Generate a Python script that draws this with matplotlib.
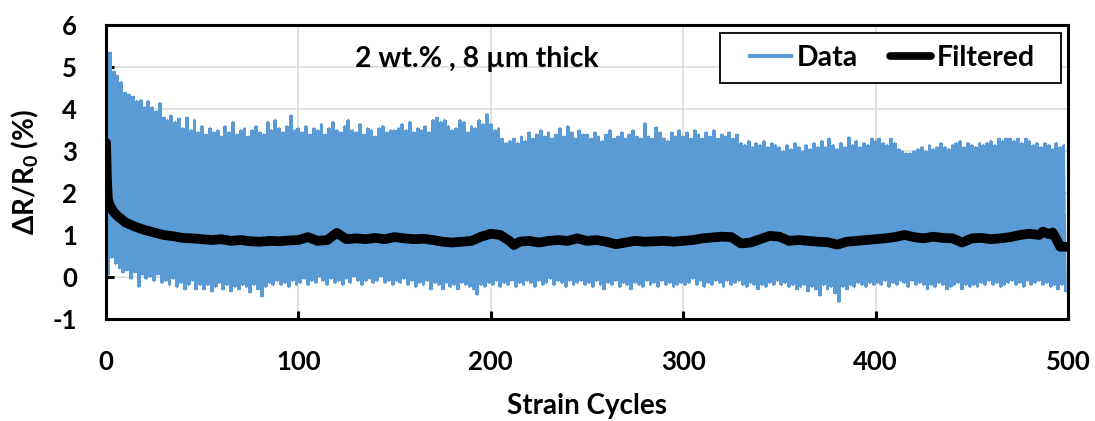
import numpy as np
import matplotlib
matplotlib.use("Agg")
import matplotlib.pyplot as plt
from matplotlib.patches import Rectangle

plt.rcParams['font.family'] = ['Lato', 'Open Sans', 'DejaVu Sans']
plt.rcParams['font.weight'] = 'bold'
plt.rcParams['axes.unicode_minus'] = False
plt.rcParams['mathtext.fontset'] = 'custom'
plt.rcParams['mathtext.rm'] = 'Lato:bold'
plt.rcParams['mathtext.it'] = 'Lato:bold'
plt.rcParams['mathtext.bf'] = 'Lato:bold'

# Peak resistance change of every other strain cycle (cycles 0, 2, 4, ... 498), %
peaks = [
    5.85, 5.35, 4.9, 4.8, 4.65, 4.4, 4.35, 4.3, 4.2, 4.22, 4.05, 4.2, 4.05, 3.95, 4.15, 3.8, 3.75, 3.85, 3.7, 3.78, 3.55, 3.8, 3.5, 3.75, 3.45,
    3.6, 3.4, 3.55, 3.45, 3.5, 3.35, 3.6, 3.45, 3.7, 3.4, 3.5, 3.55, 3.35, 3.5, 3.6, 3.45, 3.4, 3.7, 3.5, 3.75, 3.55, 3.45, 3.6, 3.85, 3.5,
    3.55, 3.45, 3.6, 3.4, 3.55, 3.5, 3.65, 3.4, 3.55, 3.7, 3.5, 3.45, 3.6, 3.75, 3.5, 3.45, 3.65, 3.4, 3.55, 3.5, 3.35, 3.55, 3.6, 3.45, 3.5,
    3.5, 3.55, 3.65, 3.5, 3.7, 3.45, 3.55, 3.5, 3.6, 3.45, 3.75, 3.8, 3.7, 3.75, 3.6, 3.5, 3.55, 3.75, 3.7, 3.45, 3.6, 3.55, 3.75, 3.65, 3.88,
    3.65, 3.5, 3.55, 3.3, 3.2, 3.25, 3.3, 3.2, 3.35, 3.25, 3.45, 3.3, 3.4, 3.5, 3.35, 3.45, 3.3, 3.4, 3.55, 3.35, 3.6, 3.45, 3.3, 3.5, 3.4,
    3.4, 3.3, 3.45, 3.35, 3.25, 3.4, 3.5, 3.3, 3.35, 3.45, 3.3, 3.4, 3.5, 3.35, 3.3, 3.67, 3.35, 3.3, 3.57, 3.45, 3.3, 3.25, 3.45, 3.35, 3.5,
    3.35, 3.45, 3.3, 3.5, 3.4, 3.3, 3.45, 3.35, 3.5, 3.3, 3.4, 3.35, 3.45, 3.3, 3.4, 3.2, 3.15, 3.25, 3.1, 3.2, 3.15, 3.25, 3.1, 3.2, 3.15,
    3.1, 3.0, 3.15, 3.05, 3.2, 3.1, 3.0, 3.15, 3.05, 3.2, 3.1, 3.25, 3.1, 3.3, 3.15, 3.05, 3.2, 3.1, 3.33, 3.15, 3.25, 3.1, 3.2, 3.15, 3.3,
    3.25, 3.3, 3.2, 3.15, 3.3, 3.2, 3.05, 3.0, 2.95, 2.95, 3.0, 3.05, 3.1, 3.0, 3.15, 3.05, 3.1, 3.2, 3.1, 3.05, 3.15, 3.2, 3.25, 3.1, 3.2,
    3.15, 3.1, 3.2, 3.15, 3.2, 3.25, 3.15, 3.3, 3.25, 3.3, 3.3, 3.25, 3.3, 3.2, 3.3, 3.25, 3.15, 3.2, 3.1, 3.2, 3.15, 3.05, 3.2, 3.1, 3.15,
]

# Valley resistance change of the odd strain cycles (cycles 1, 3, 5, ... 499), %
troughs = [
    0.05, 0.45, 0.3, 0.2, 0.1, 0.15, -0.05, 0.1, -0.24, 0.05, -0.05, 0.0, -0.1, 0.05, -0.15, -0.1, -0.2, -0.05, -0.25, -0.15, -0.3, -0.2, -0.1, -0.3, -0.2,
    -0.3, -0.2, -0.35, -0.25, -0.15, -0.3, -0.2, -0.35, -0.25, -0.3, -0.2, -0.25, -0.38, -0.2, -0.3, -0.47, -0.25, -0.15, -0.2, -0.1, -0.2, -0.15, -0.25, -0.1, -0.2,
    -0.15, -0.05, -0.2, -0.1, -0.15, 0.0, -0.1, -0.2, -0.05, -0.15, -0.1, -0.2, -0.05, -0.15, 0.0, -0.1, -0.2, -0.1, -0.05, -0.15, -0.1, 0.0, -0.15, -0.1, -0.2,
    -0.1, -0.15, -0.05, -0.2, -0.1, -0.25, -0.15, -0.2, -0.1, -0.3, -0.15, -0.2, -0.3, -0.15, -0.25, -0.2, -0.3, -0.15, -0.2, -0.25, -0.3, -0.43, -0.2, -0.25, -0.15,
    -0.2, -0.1, -0.25, -0.15, -0.2, -0.1, -0.25, -0.15, -0.2, -0.1, -0.15, -0.25, -0.1, -0.2, -0.15, -0.05, -0.2, -0.1, -0.15, -0.25, -0.1, -0.2, -0.15, -0.1, -0.2,
    -0.15, -0.25, -0.1, -0.2, -0.3, -0.15, -0.2, -0.1, -0.25, -0.15, -0.2, -0.3, -0.15, -0.2, -0.25, -0.1, -0.2, -0.15, -0.25, -0.1, -0.2, -0.15, -0.25, -0.2, -0.15,
    -0.2, -0.15, -0.05, -0.2, -0.1, -0.25, -0.15, -0.2, -0.1, -0.15, -0.25, -0.1, -0.2, -0.15, -0.1, -0.2, -0.25, -0.15, -0.2, -0.3, -0.2, -0.25, -0.15, -0.2, -0.1,
    -0.2, -0.15, -0.25, -0.2, -0.3, -0.25, -0.2, -0.35, -0.25, -0.3, -0.45, -0.2, -0.3, -0.25, -0.4, -0.6, -0.25, -0.3, -0.2, -0.25, -0.15, -0.2, -0.25, -0.15, -0.2,
    -0.15, -0.2, -0.1, -0.25, -0.15, -0.2, -0.1, -0.15, -0.25, -0.1, -0.2, -0.15, -0.2, -0.3, -0.2, -0.25, -0.15, -0.2, -0.3, -0.25, -0.2, -0.15, -0.3, -0.2, -0.25,
    -0.2, -0.25, -0.15, -0.2, -0.1, -0.2, -0.15, -0.25, -0.2, -0.15, -0.1, -0.2, -0.15, -0.25, -0.1, -0.2, -0.15, -0.1, -0.2, -0.15, -0.25, -0.2, -0.3, -0.2, -0.35,
]

# Low-pass filtered signal
filt_cycles = [0, 0.5, 1, 2, 3, 4, 6, 8, 10, 15, 20, 25, 30, 35, 40, 45, 50, 55, 60, 65, 70, 75, 80, 85, 90, 95,
               100, 105, 110, 115, 120, 125, 130, 135, 140, 145, 150, 155, 160, 165, 170, 175, 180, 185, 190, 195,
               200, 205, 210, 212, 215, 220, 225, 230, 235, 240, 245, 250, 255, 260, 265, 270, 275, 280, 285, 290, 295,
               300, 305, 310, 315, 320, 325, 330, 335, 340, 345, 350, 355, 360, 365, 370, 375, 380, 385, 390, 395,
               400, 405, 410, 415, 420, 425, 430, 435, 440, 445, 450, 455, 460, 465, 470, 475, 480, 485, 487, 490, 492, 494, 496, 500]
filt_values = [3.2, 2.3, 1.85, 1.7, 1.62, 1.55, 1.45, 1.38, 1.3, 1.2, 1.12, 1.06, 1.0, 0.97, 0.93, 0.92, 0.9, 0.88, 0.9, 0.86, 0.88, 0.85, 0.84, 0.86, 0.85, 0.87,
               0.88, 0.95, 0.86, 0.88, 1.05, 0.9, 0.92, 0.9, 0.93, 0.9, 0.95, 0.92, 0.9, 0.91, 0.88, 0.84, 0.82, 0.84, 0.86, 0.96,
               1.03, 1.0, 0.85, 0.76, 0.84, 0.86, 0.82, 0.86, 0.88, 0.86, 0.92, 0.86, 0.88, 0.84, 0.78, 0.82, 0.86, 0.84, 0.85, 0.86, 0.84,
               0.86, 0.88, 0.92, 0.94, 0.96, 0.95, 0.8, 0.82, 0.9, 0.98, 0.96, 0.86, 0.88, 0.86, 0.84, 0.83, 0.77, 0.84, 0.86, 0.88,
               0.9, 0.92, 0.95, 1.0, 0.95, 0.92, 0.96, 0.93, 0.92, 0.82, 0.92, 0.93, 0.9, 0.92, 0.95, 1.0, 1.03, 1.0, 1.08, 1.02, 1.06, 0.9, 0.72, 0.72]

x_ticks = [0, 100, 200, 300, 400, 500]
y_ticks = [-1, 0, 1, 2, 3, 4, 5, 6]

BLUE = '#5B9BD5'

# Interleave peaks and valleys into one continuous trace
data = np.empty(len(peaks) + len(troughs))
data[0::2] = peaks
data[1::2] = troughs
cycles = np.arange(len(data))
peak_x = cycles[0::2]
trough_x = cycles[1::2]

fig = plt.figure(figsize=(10.95, 4.21), dpi=100)
ax = fig.add_axes([0.0968, 0.2423, 0.8785, 0.6983])

# Dense oscillation: stepped bodies up to each peak and down to each valley, plus the trace
mid = 1.5
ax.fill_between(peak_x, peaks, mid, step='mid', color=BLUE, lw=0, zorder=2)
ax.fill_between(trough_x, troughs, mid, step='mid', color=BLUE, lw=0, zorder=2)
ax.plot(cycles, data, color=BLUE, lw=1.2, zorder=2, label='Data')
ax.plot(filt_cycles, filt_values, color='black', lw=7, zorder=3,
        solid_capstyle='round', solid_joinstyle='round', label='Filtered')

ax.set_xlim(0, 500)
ax.set_ylim(-1, 6)
ax.set_xticks(x_ticks)
ax.set_yticks(y_ticks)
ax.grid(True, color='#d9d9d9', lw=1.1, zorder=0)
ax.set_axisbelow(True)

for s in ax.spines.values():
    s.set_linewidth(2.2)
    s.set_color('black')
    s.set_zorder(5)

ax.tick_params(axis='both', direction='in', length=6, width=2.2, labelsize=18.5,
               top=False, right=False)
ax.tick_params(axis='x', pad=22)
ax.tick_params(axis='y', pad=21)

ax.set_xlabel('Strain Cycles', fontsize=20, fontweight='bold', labelpad=14)
ax.set_ylabel(r'ΔR/R$_\mathregular{0}$ (%)', fontsize=20, fontweight='bold', labelpad=8)

ax.text(192.8, 5.0, '2 wt.% , 8 µm thick', fontsize=20.5, fontweight='bold',
        ha='center', va='baseline', zorder=6)

# Legend box with generous side margins
frame = Rectangle((0.638, 0.8027), 0.3547, 0.1701, transform=ax.transAxes,
                  facecolor='white', edgecolor='black', lw=1.3, zorder=6)
ax.add_patch(frame)
handles, labels = ax.get_legend_handles_labels()
leg = ax.legend(handles, labels, loc='center', bbox_to_anchor=(0.8176, 0.8878),
                ncol=2, fontsize=20.5, frameon=False, handlelength=1.45,
                handletextpad=0.2, columnspacing=1.1, borderpad=0, borderaxespad=0)
leg.legend_handles[0].set_linewidth(3)
leg.legend_handles[1].set_linewidth(5.5)
leg.set_zorder(7)

fig.savefig('out.png', dpi=100)
